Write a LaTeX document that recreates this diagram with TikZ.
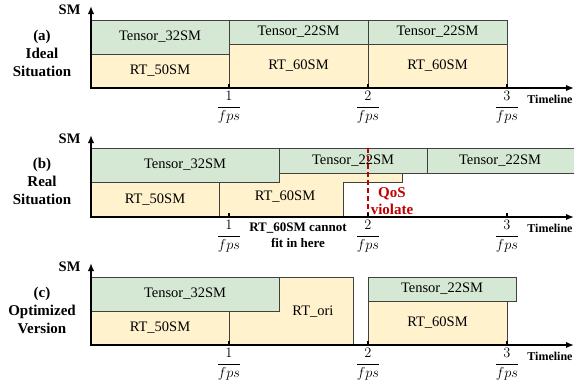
\documentclass[tikz,border=0pt]{standalone}
\usepackage{fontspec}
\setmainfont{Liberation Serif}
\usetikzlibrary{arrows.meta}
\definecolor{tensorgreen}{HTML}{D5E8D4}
\definecolor{rtyellow}{HTML}{FFF2CC}
\definecolor{qosred}{HTML}{C00000}
\definecolor{edgegray}{HTML}{404040}

\begin{document}
\begin{tikzpicture}[
  x=1pt, y=-1pt,
  font=\fontsize{14.5}{16}\selectfont,
  tensor/.style={draw=edgegray, fill=tensorgreen, line width=0.8pt},
  rt/.style={draw=edgegray, fill=rtyellow, line width=0.8pt},
  axis/.style={-{Latex[length=8pt,width=6.5pt]}, line width=1.6pt},
  tickmark/.style={line width=1.2pt},
  case/.style={font=\fontsize{15}{18}\selectfont\bfseries, align=center},
  note/.style={font=\fontsize{13}{16}\selectfont\bfseries, align=center},
  fracl/.style={font=\fontsize{13.5}{15}\selectfont}
]
\useasboundingbox (0,0) rectangle (574,383);

% (a) ideal situation
\draw[tensor] (91,20) rectangle (229,54) node[midway] (ta1) {Tensor\_32SM};
\draw[rt] (91,54) rectangle (229,88) node[midway] (ra1) {RT\_50SM};
\draw[tensor] (229,20) rectangle (368,44) node[midway] (ta2) {Tensor\_22SM};
\draw[rt] (229,44) rectangle (368,88) node[midway] (ra2) {RT\_60SM};
\draw[tensor] (368,20) rectangle (507,44) node[midway] (ta3) {Tensor\_22SM};
\draw[rt] (368,44) rectangle (507,88) node[midway] (ra3) {RT\_60SM};
\node[case] (casea) at (42,53) {(a)\\Ideal\\Situation};

% (b) real situation
\draw[tensor] (91,148) rectangle (279,182) node[midway] (tb1) {Tensor\_32SM};
\draw[tensor] (279,148) rectangle (427,173) node[midway] (tb2) {Tensor\_22SM};
\fill[tensorgreen] (427,148) rectangle (574,173);
\draw[edgegray, line width=0.8pt] (574,148) -- (427,148) -- (427,173) -- (574,173);
\node (tb3) at (500,160.5) {Tensor\_22SM};
\draw[rt] (91,182) rectangle (219,217) node[midway] (rb1) {RT\_50SM};
\draw[rt] (219,217) -- (219,182) -- (279,182) -- (279,173) -- (402,173)
  -- (402,182) -- (343,182) -- (343,217) -- cycle;
\node (rb2) at (285,197) {RT\_60SM};
\draw[qosred, dash pattern=on 5pt off 3pt, line width=1.2pt] (368,148) -- (368,217);
\node[note, text=qosred, font=\fontsize{15}{17}\selectfont\bfseries] (qos) at (392,201.5) {QoS\\violate};
\node[note] (nofit) at (298,235) {RT\_60SM cannot\\fit in here};
\node[case] (caseb) at (42,181) {(b)\\Real\\Situation};

% (c) optimized version
\draw[rt] (229,277) rectangle (353,345);
\node (rc0) at (313,312) {RT\_ori};
\draw[tensor] (91,277) rectangle (279,311) node[midway] (tc1) {Tensor\_32SM};
\draw[rt] (91,311) rectangle (229,345) node[midway] (rc1) {RT\_50SM};
\draw[tensor] (368,277) rectangle (516,301) node[midway] (tc2) {Tensor\_22SM};
\draw[rt] (368,301) rectangle (507,345) node[midway] (rc2) {RT\_60SM};
\node[case] (casec) at (42,310) {(c)\\Optimized\\Version};

% axes, ticks and time labels
\foreach \base in {88,217,345} {
  \draw[axis] (90.2,\base) -- (574,\base);
  \draw[axis] (91,{\base+0.8}) -- (91,{\base-82});
  \node[font=\fontsize{14.5}{16}\selectfont\bfseries, anchor=east] at (84,{\base-78}) {SM};
  \node[font=\fontsize{12}{14}\selectfont\bfseries] at (550,{\base+11}) {Timeline};
  \foreach \x/\k in {229/1,368/2,507/3} {
    \draw[tickmark] (\x,\base) -- (\x,{\base-4});
    \node[fracl] at (\x,{\base+19.5}) {$\displaystyle\frac{\k}{fps}$};
  }
}

\end{tikzpicture}
\end{document}
